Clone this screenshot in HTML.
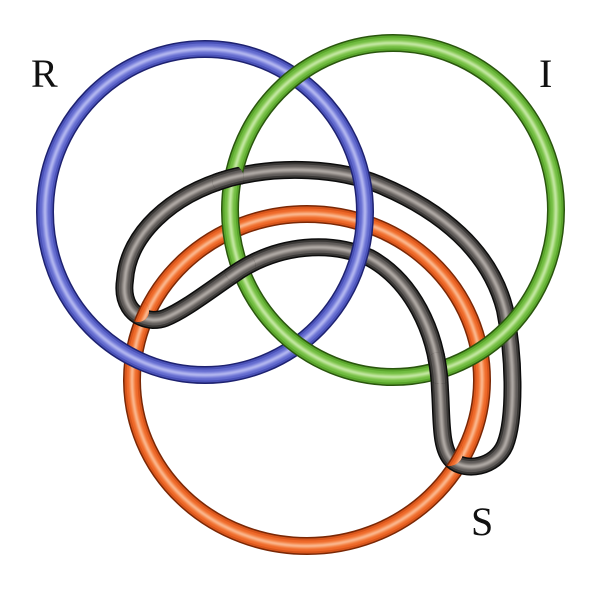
<!DOCTYPE html>
<html><head><meta charset="utf-8"><style>
html,body{margin:0;padding:0;background:#fff;}
svg{display:block;}
text{font-family:"Liberation Serif",serif;font-size:40px;fill:#111;}
</style></head><body>
<svg width="600" height="591" viewBox="0 0 600 591" xmlns="http://www.w3.org/2000/svg">
<defs>
  <filter id="soft" x="-5%" y="-5%" width="110%" height="110%"><feGaussianBlur stdDeviation="0.9"/></filter>
  <g id="orange" fill="none">
    <ellipse cx="307" cy="380" rx="175" ry="166" stroke="#7a2806" stroke-width="18"/>
    <ellipse cx="307" cy="380" rx="175" ry="166" stroke="#d8561c" stroke-width="15"/>
    <ellipse cx="307" cy="380" rx="175" ry="166" stroke="#ee6828" stroke-width="11"/>
    <ellipse cx="307" cy="380" rx="175" ry="166" stroke="#f58a50" stroke-width="6" filter="url(#soft)"/>
    <ellipse cx="307" cy="380" rx="175" ry="166" stroke="#fbb890" stroke-width="2.5" filter="url(#soft)"/>
  </g>
  <g id="blue" fill="none">
    <ellipse cx="205" cy="212" rx="160" ry="163" stroke="#1e2270" stroke-width="18"/>
    <ellipse cx="205" cy="212" rx="160" ry="163" stroke="#4a52b8" stroke-width="15"/>
    <ellipse cx="205" cy="212" rx="160" ry="163" stroke="#626ace" stroke-width="11"/>
    <ellipse cx="205" cy="212" rx="160" ry="163" stroke="#868ce0" stroke-width="6" filter="url(#soft)"/>
    <ellipse cx="205" cy="212" rx="160" ry="163" stroke="#b4b8f0" stroke-width="2.5" filter="url(#soft)"/>
  </g>
  <g id="green" fill="none">
    <ellipse cx="393" cy="210" rx="163" ry="167" stroke="#2a560e" stroke-width="18"/>
    <ellipse cx="393" cy="210" rx="163" ry="167" stroke="#5aa52c" stroke-width="15"/>
    <ellipse cx="393" cy="210" rx="163" ry="167" stroke="#70bc40" stroke-width="11"/>
    <ellipse cx="393" cy="210" rx="163" ry="167" stroke="#96d066" stroke-width="6" filter="url(#soft)"/>
    <ellipse cx="393" cy="210" rx="163" ry="167" stroke="#c4e8a4" stroke-width="2.5" filter="url(#soft)"/>
  </g>
  <path id="bp" d="M153 320 C130 318,122 300,125 280 C128 235,170 195,230 178 C280 165,340 168,380 185 C440 210,490 250,505 310 C515 360,515 420,505 445 C495 468,465 472,452 460 C440 448,442 420,440 390 C438 330,410 280,370 258 C330 240,280 245,240 270 C210 290,185 310,165 318 C160 320,156 320,153 320 Z"/>
  <g id="black" fill="none">
    <use href="#bp" stroke="#0c0c0c" stroke-width="18"/>
    <use href="#bp" stroke="#3a3836" stroke-width="15"/>
    <use href="#bp" stroke="#5e5a58" stroke-width="11"/>
    <use href="#bp" stroke="#86807c" stroke-width="6" filter="url(#soft)"/>
    <use href="#bp" stroke="#b0aaa6" stroke-width="2.5" filter="url(#soft)"/>
  </g>
  <clipPath id="c1"><circle cx="228" cy="179" r="16"/></clipPath>
  <clipPath id="c2"><circle cx="240" cy="268" r="16"/></clipPath>
  <clipPath id="c3"><circle cx="440" cy="368" r="16"/></clipPath>
  <clipPath id="c4"><circle cx="138" cy="311" r="11"/></clipPath>
  <clipPath id="c5"><circle cx="449" cy="452" r="14"/></clipPath>
</defs>
<use href="#orange"/>
<use href="#black"/>
<use href="#blue"/>
<use href="#green"/>
<use href="#black" clip-path="url(#c1)"/>
<use href="#black" clip-path="url(#c2)"/>
<use href="#black" clip-path="url(#c3)"/>
<use href="#orange" clip-path="url(#c4)"/>
<use href="#orange" clip-path="url(#c5)"/>
<text x="31" y="87">R</text>
<text x="539" y="87">I</text>
<text x="471" y="535">S</text>
</svg>
</body></html>
